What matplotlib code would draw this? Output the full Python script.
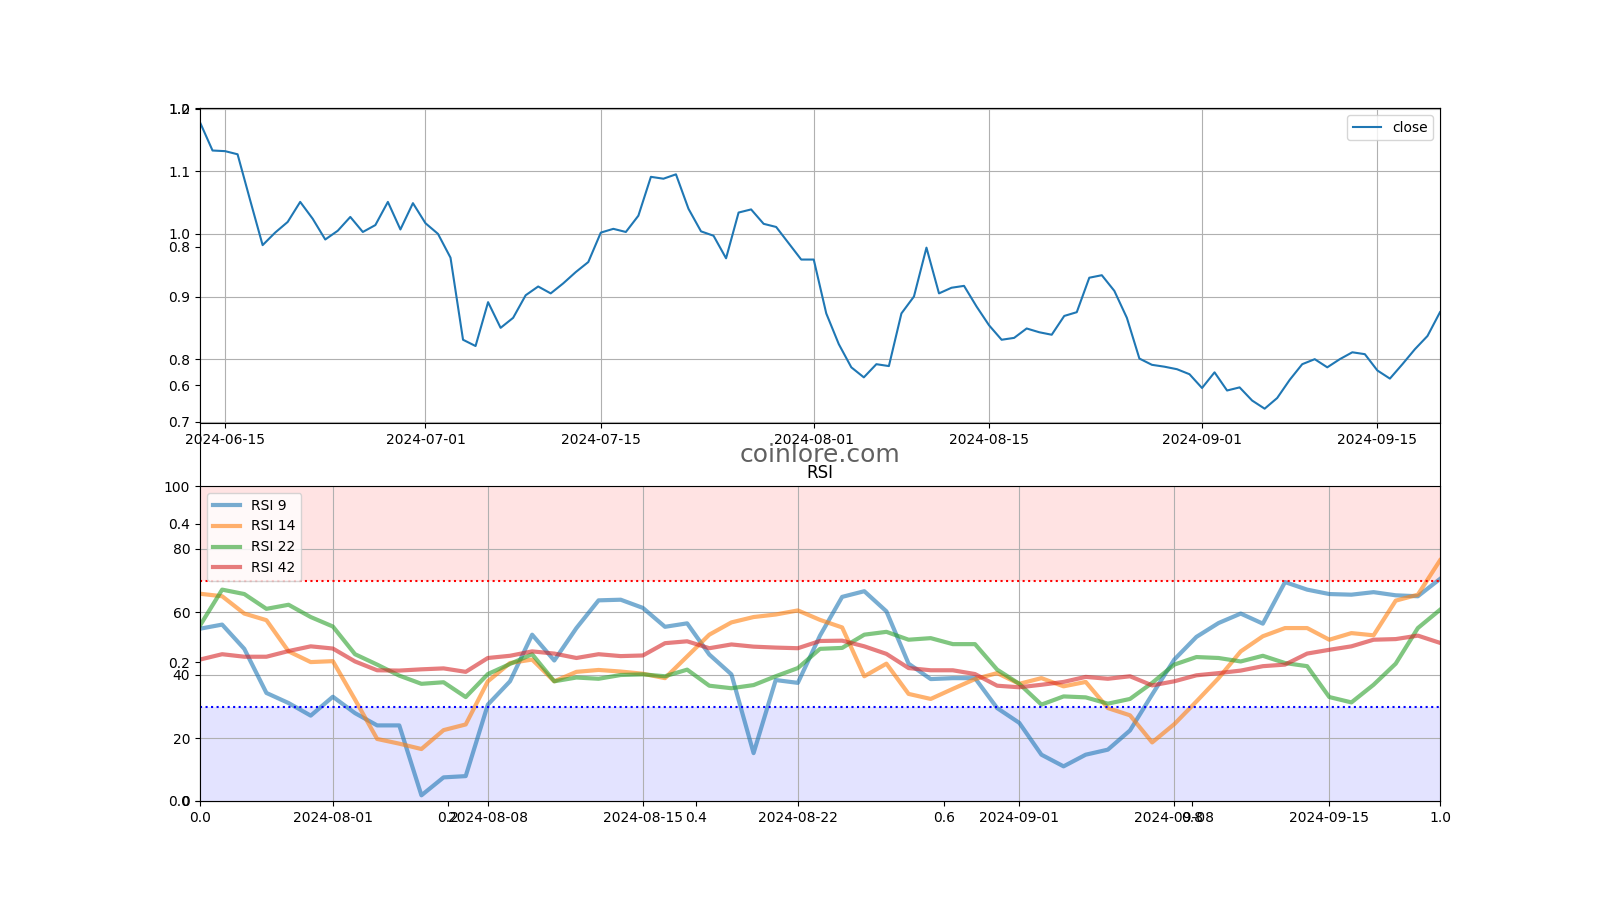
import numpy as np
import pandas as pd
import matplotlib
matplotlib.use("Agg")
import matplotlib.pyplot as plt

# ---- data ----
close_start = "2024-06-13"
close = [1.178, 1.133, 1.132, 1.127, 1.054, 0.982, 1.002, 1.019, 1.051, 1.024,
         0.991, 1.005, 1.027, 1.003, 1.014, 1.051, 1.007, 1.049, 1.017, 1.000,
         0.962, 0.831, 0.821, 0.891, 0.850, 0.866, 0.902, 0.916, 0.905, 0.921,
         0.939, 0.955, 1.002, 1.008, 1.003, 1.029, 1.091, 1.088, 1.095, 1.040,
         1.004, 0.997, 0.961, 1.034, 1.039, 1.016, 1.011, 0.985, 0.959, 0.959,
         0.873, 0.824, 0.787, 0.771, 0.792, 0.789, 0.873, 0.900, 0.978, 0.905,
         0.914, 0.917, 0.884, 0.854, 0.831, 0.834, 0.849, 0.843, 0.839, 0.869,
         0.875, 0.930, 0.934, 0.909, 0.866, 0.801, 0.791, 0.788, 0.784, 0.776,
         0.754, 0.779, 0.750, 0.755, 0.734, 0.721, 0.738, 0.767, 0.792, 0.800,
         0.787, 0.800, 0.811, 0.808, 0.782, 0.769, 0.792, 0.816, 0.837, 0.875]

rsi_start = "2024-07-26"
rsi9 = [54.7, 56.0, 48.3, 34.3, 31.1, 27.1, 33.1, 27.9, 24.0, 24.0,
        1.8, 7.5, 7.9, 30.6, 38.0, 52.8, 44.6, 54.9, 63.7, 63.9,
        61.3, 55.3, 56.4, 46.5, 40.2, 15.2, 38.4, 37.5, 52.5, 64.8,
        66.6, 60.2, 43.6, 38.7, 39.0, 39.0, 29.5, 24.8, 14.7, 11.0,
        14.7, 16.3, 22.4, 33.8, 44.9, 52.1, 56.5, 59.5, 56.3, 69.5,
        67.1, 65.7, 65.5, 66.3, 65.3, 65.0, 70.5]
rsi14 = [65.8, 65.0, 59.5, 57.4, 47.5, 44.1, 44.4, 32.2, 19.7, 18.2,
         16.5, 22.5, 24.3, 38.0, 43.8, 44.9, 38.0, 41.0, 41.6, 41.1,
         40.4, 39.0, 45.9, 52.8, 56.7, 58.4, 59.2, 60.5, 57.5, 55.1,
         39.6, 43.6, 34.0, 32.4, 35.6, 38.7, 40.6, 37.2, 39.0, 36.4,
         37.8, 29.5, 27.2, 18.6, 24.4, 31.6, 39.0, 47.5, 52.3, 54.9,
         54.9, 51.2, 53.3, 52.6, 63.6, 65.5, 76.4]
rsi22 = [55.7, 67.1, 65.7, 61.0, 62.3, 58.4, 55.4, 46.6, 43.3, 39.8,
         37.2, 37.7, 33.0, 40.3, 43.5, 46.6, 38.0, 39.2, 38.8, 40.0,
         40.2, 39.6, 41.7, 36.6, 35.8, 36.8, 39.6, 42.2, 48.3, 48.6,
         52.8, 53.7, 51.2, 51.7, 49.8, 49.8, 41.7, 37.2, 30.6, 33.2,
         32.9, 30.9, 32.4, 37.5, 43.3, 45.7, 45.4, 44.3, 46.1, 43.8,
         42.8, 33.0, 31.3, 36.9, 43.6, 54.9, 60.7]
rsi42 = [44.9, 46.6, 45.8, 45.8, 47.6, 49.1, 48.4, 44.3, 41.5, 41.4,
         41.8, 42.1, 41.0, 45.4, 46.1, 47.5, 46.8, 45.4, 46.6, 46.0,
         46.2, 50.1, 50.7, 48.5, 49.7, 49.0, 48.7, 48.5, 50.8, 50.9,
         49.1, 46.7, 42.2, 41.5, 41.5, 40.3, 36.6, 36.1, 36.9, 37.8,
         39.4, 38.8, 39.6, 36.7, 38.0, 39.9, 40.6, 41.4, 42.8, 43.3,
         46.8, 48.0, 49.1, 51.2, 51.4, 52.5, 50.2]

close_dates = pd.date_range(close_start, periods=len(close), freq="D")
rsi_dates = pd.date_range(rsi_start, periods=len(rsi9), freq="D")

fig = plt.figure(figsize=(16, 9), dpi=100)

# underlying default axes
ax0 = fig.add_subplot(111)
ax0.text(0.5, 0.5, "coinlore.com", transform=ax0.transAxes, ha="center",
         va="center", fontsize=18, color="#606060")

# price axes
ax1 = fig.add_subplot(211)
ax1.plot(close_dates, close, color="tab:blue", label="close")
ax1.set_xlim(close_dates[0], close_dates[-1])
ax1.grid(True)
ax1.legend(loc="upper right")

# RSI axes
ax2 = fig.add_subplot(212)
for vals, lab, col in [(rsi9, "RSI 9", "tab:blue"), (rsi14, "RSI 14", "tab:orange"),
                       (rsi22, "RSI 22", "tab:green"), (rsi42, "RSI 42", "tab:red")]:
    ax2.plot(rsi_dates, vals, color=col, lw=3, alpha=0.6, label=lab)
ax2.axhline(70, color="red", ls=":", lw=1.5)
ax2.axhline(30, color="blue", ls=":", lw=1.5)
ax2.axhspan(70, 100, color="red", alpha=0.11, lw=0)
ax2.axhspan(0, 30, color="blue", alpha=0.11, lw=0)
ax2.set_ylim(0, 100)
ax2.set_xlim(rsi_dates[0], rsi_dates[-1])
ax2.set_title("RSI")
ax2.grid(True)
ax2.legend(loc="upper left")

fig.savefig("out.png", dpi=100)
